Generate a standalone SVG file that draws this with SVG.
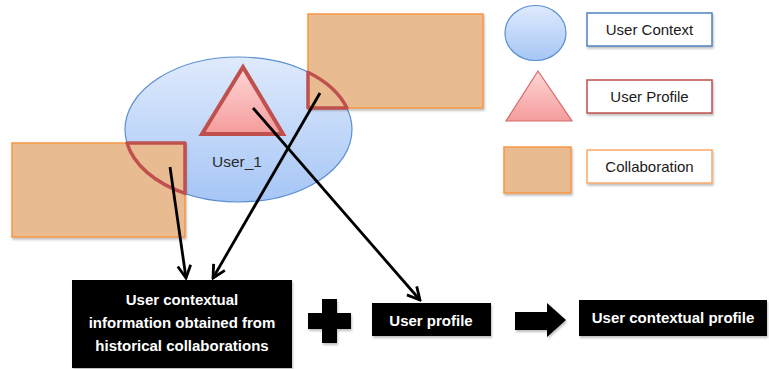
<svg xmlns="http://www.w3.org/2000/svg" width="769" height="369" viewBox="0 0 769 369">
  <defs>
    <linearGradient id="gBlue" x1="0" y1="0" x2="0" y2="1">
      <stop offset="0" stop-color="#dfeafc"/>
      <stop offset="1" stop-color="#a6c6f6"/>
    </linearGradient>
    <linearGradient id="gPink" x1="0" y1="0" x2="0" y2="1">
      <stop offset="0" stop-color="#ffd6d6"/>
      <stop offset="1" stop-color="#f59c9c"/>
    </linearGradient>
    <filter id="sh" x="-10%" y="-10%" width="130%" height="130%">
      <feDropShadow dx="1" dy="2" stdDeviation="1.2" flood-color="#000" flood-opacity="0.25"/>
    </filter>
    <marker id="arr" markerUnits="userSpaceOnUse" markerWidth="16" markerHeight="16" viewBox="0 0 16 16" refX="14" refY="8" orient="auto">
      <path d="M1.5,1.5 L14,8 L1.5,14.5" fill="none" stroke="#000" stroke-width="2.8" stroke-linejoin="miter"/>
    </marker>
  </defs>
  <style>
    .collab { fill: #e8bb91; stroke: #f79646; stroke-width: 1.5; }
    .overlap { fill: none; stroke: #c0504d; stroke-width: 3.5; stroke-linejoin: round; }
    .legendbox { fill: #ffffff; stroke-width: 1.5; }
    .legendtxt { font-family: "Liberation Sans", Arial, sans-serif; font-size: 15px; fill: #1a1a1a; text-anchor: middle; }
    .blk { fill: #000000; }
    .wtxt { font-family: "Liberation Sans", Arial, sans-serif; font-size: 15px; font-weight: bold; fill: #ffffff; text-anchor: middle; }
    .conn { fill: none; stroke: #000; stroke-width: 2.8; marker-end: url(#arr); }
  </style>

  <rect width="769" height="369" fill="#ffffff"/>

  <g id="user1">
    <ellipse cx="238.5" cy="129.5" rx="113.5" ry="72.5" fill="url(#gBlue)" stroke="#5a8fd0" stroke-width="1.2"/>
    <text x="237" y="167" font-family="Liberation Sans, Arial, sans-serif" font-size="15.5" fill="#2b2b2b" text-anchor="middle">User_1</text>
  </g>

  <g id="profile-triangle">
    <polygon points="243,67 202,134 283,134" fill="url(#gPink)" stroke="#c0504d" stroke-width="4" stroke-linejoin="miter"/>
  </g>

  <g id="collab-left">
    <rect class="collab" x="12" y="143" width="173" height="94" filter="url(#sh)"/>
    <path class="overlap" d="M127,143 L185,143 L185,193.4 A113.5,72.5 0 0 1 127,143 Z"/>
  </g>

  <g id="collab-top">
    <rect class="collab" x="308" y="14" width="175" height="94" filter="url(#sh)"/>
    <path class="overlap" d="M308,72.2 A113.5,72.5 0 0 1 346.9,108 L308,108 Z"/>
  </g>

  <g id="legend-context">
    <ellipse cx="535.5" cy="33" rx="30.5" ry="27.5" fill="url(#gBlue)" stroke="#5a8fd0" stroke-width="1.2"/>
    <rect class="legendbox" x="587" y="13" width="125" height="33" stroke="#4f81bd" filter="url(#sh)"/>
    <text class="legendtxt" x="649.5" y="35">User Context</text>
  </g>

  <g id="legend-profile">
    <polygon points="538,71 506,121 572,121" fill="url(#gPink)" stroke="#d46a6a" stroke-width="1.2"/>
    <rect class="legendbox" x="587" y="80" width="125" height="33" stroke="#c0504d" filter="url(#sh)"/>
    <text class="legendtxt" x="649.5" y="102">User Profile</text>
  </g>

  <g id="legend-collab">
    <rect class="collab" x="504" y="147" width="67" height="46" filter="url(#sh)"/>
    <rect class="legendbox" x="587" y="150" width="125" height="33" stroke="#f9a86a" filter="url(#sh)"/>
    <text class="legendtxt" x="649.5" y="172">Collaboration</text>
  </g>

  <g id="connectors">
    <line class="conn" x1="170" y1="167" x2="186" y2="278"/>
    <line class="conn" x1="320" y1="93" x2="213" y2="278"/>
    <line class="conn" x1="253" y1="108" x2="420" y2="300"/>
  </g>

  <g id="box-context-info">
    <rect class="blk" x="72" y="280" width="220" height="88" filter="url(#sh)"/>
    <text class="wtxt" x="182" y="305">User contextual</text>
    <text class="wtxt" x="182" y="328">information obtained from</text>
    <text class="wtxt" x="182" y="351">historical collaborations</text>
  </g>

  <g id="plus">
    <path class="blk" d="M322,299 H337 V313 H351 V329 H337 V343 H322 V329 H308 V313 H322 Z" filter="url(#sh)"/>
  </g>

  <g id="box-user-profile">
    <rect class="blk" x="372" y="303" width="119" height="33" filter="url(#sh)"/>
    <text class="wtxt" x="431" y="326">User profile</text>
  </g>

  <g id="result-arrow">
    <polygon class="blk" points="515,312 547,312 547,303 566,320 547,337 547,330 515,330" filter="url(#sh)"/>
  </g>

  <g id="box-contextual-profile">
    <rect class="blk" x="579" y="300" width="188" height="36" filter="url(#sh)"/>
    <text class="wtxt" x="673" y="323">User contextual profile</text>
  </g>
</svg>
